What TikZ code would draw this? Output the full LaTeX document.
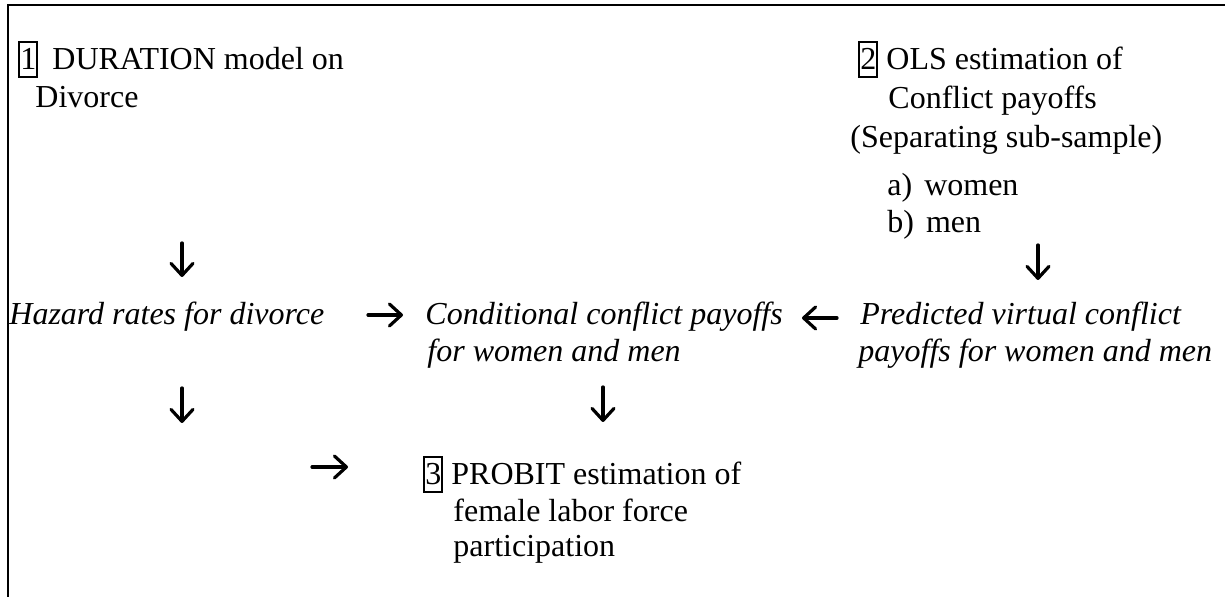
\documentclass[tikz,border=0pt]{standalone}
\usepackage{fontspec}
\setmainfont{Liberation Serif}
\usetikzlibrary{arrows.meta}
\newcommand\numbox[1]{{\setlength\fboxsep{0pt}\setlength\fboxrule{1pt}\fbox{\rule[-3pt]{0pt}{16.5pt}#1}}}
\begin{document}
\begin{tikzpicture}[x=0.5pt,y=-0.5pt,
  txt/.style={anchor=base west, inner sep=0pt, font=\fontsize{16}{18.7}\selectfont},
  itx/.style={anchor=base west, inner sep=0pt, font=\fontsize{16}{18.7}\selectfont\itshape},
  arr/.style={-{Straight Barb[length=6pt,width=11pt,round]}, line width=1.6pt, line cap=round},
  frame/.style={line width=1.4pt}]
\useasboundingbox (0,0) rectangle (1225,597);
\draw[frame] (1225,5) -- (8,5) -- (8,597);
% block 1
\node[txt] (d1a) at (18,70) {\numbox{1}\hspace{7pt}DURATION model on};
\node[txt] (d1b) at (35,108) {Divorce};
% block 2
\node[txt] (o2a) at (858,70) {\numbox{2} OLS estimation of};
\node[txt] (o2b) at (888,109) {Conflict payoffs};
\node[txt] (o2c) at (850,148) {(Separating sub-sample)};
\node[txt] (o2d) at (887,196) {a)\hspace{6pt}women};
\node[txt] (o2e) at (887,233) {b)\hspace{6pt}men};
% middle row
\node[itx] (hz) at (9,325) {Hazard rates for divorce};
\node[itx] (cc1) at (425,325) {Conditional conflict payoffs};
\node[itx] (cc2) at (427,362) {for women and men};
\node[itx] (pv1) at (860,325) {Predicted virtual conflict};
\node[itx] (pv2) at (858,362) {payoffs for women and men};
% block 3
\node[txt] (pr1) at (423,485) {\numbox{3} PROBIT estimation of};
\node[txt] (pr2) at (453,522) {female labor force};
\node[txt] (pr3) at (453,557) {participation};
% arrows
\coordinate (a1s) at (182,243); \coordinate (a1e) at (182,277);
\coordinate (a2s) at (1038,245); \coordinate (a2e) at (1038,280);
\coordinate (a3s) at (368,315); \coordinate (a3e) at (403,315);
\coordinate (a4s) at (837,318); \coordinate (a4e) at (802,318);
\coordinate (a5s) at (182,388); \coordinate (a5e) at (182,423);
\coordinate (a6s) at (603,387); \coordinate (a6e) at (603,422);
\coordinate (a7s) at (312,467); \coordinate (a7e) at (348,467);
\draw[arr] (a1s) -- (a1e);
\draw[arr] (a2s) -- (a2e);
\draw[arr] (a3s) -- (a3e);
\draw[arr] (a4s) -- (a4e);
\draw[arr] (a5s) -- (a5e);
\draw[arr] (a6s) -- (a6e);
\draw[arr] (a7s) -- (a7e);
\end{tikzpicture}
\end{document}
